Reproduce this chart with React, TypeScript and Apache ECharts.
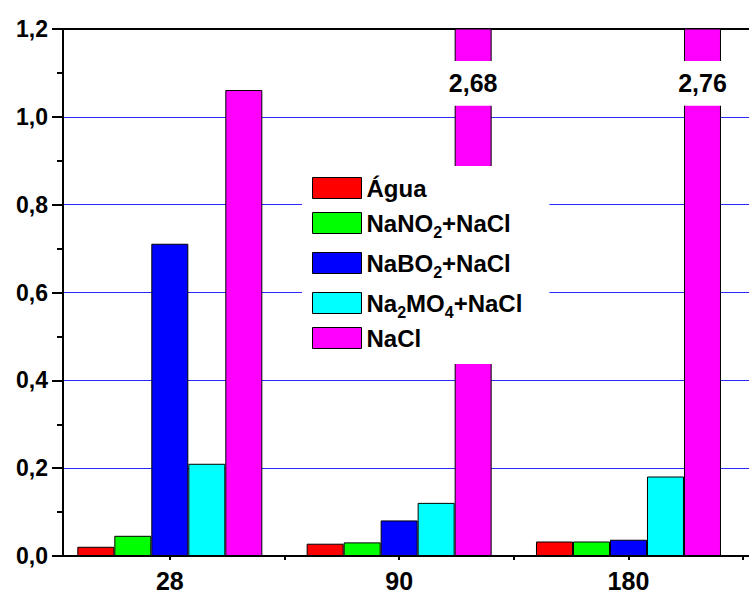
import React, { useEffect, useRef } from "react";
import * as echarts from "echarts";

// ---- data ----
const categories = ["28", "90", "180"];
const xPositions = [1, 2, 3];
const seriesNames = ["Água", "NaNO2+NaCl", "NaBO2+NaCl", "Na2MO4+NaCl", "NaCl"];
const agua = [0.021, 0.028, 0.033];
const nano2 = [0.046, 0.031, 0.033];
const nabo2 = [0.711, 0.081, 0.037];
const na2mo4 = [0.21, 0.121, 0.181];
const nacl = [1.061, 2.68, 2.76];
const yTicks = [0, 0.2, 0.4, 0.6, 0.8, 1.0, 1.2];
const xMinorTicks = [1, 1.5, 2, 2.5, 3, 3.5];

const seriesValues = [agua, nano2, nabo2, na2mo4, nacl];
const colors = ["#ff0000", "#00ff00", "#0000ff", "#00ffff", "#ff00ff"];

const FONT = '"Liberation Sans", Arial, sans-serif';
const BAR_W = 37;
const Y_MAX = yTicks[yTicks.length - 1];
const BREAK_LOW = 1.025;
const BREAK_HIGH = 1.127;

const fmtComma = (v: number, d: number) => v.toFixed(d).replace(".", ",");

export default function App() {
  const ref = useRef<HTMLDivElement>(null);

  useEffect(() => {
    if (!ref.current) return;
    const chart = echarts.init(ref.current, undefined, { renderer: "svg" });

    const barSeries = seriesNames.map((name, si) => ({
      name,
      type: "bar",
      xAxisIndex: 0,
      yAxisIndex: 0,
      barWidth: BAR_W,
      barGap: "0%",
      clip: true,
      data: xPositions.map((x, i) => [x, seriesValues[si][i]]),
      itemStyle: { color: colors[si], borderColor: "#000", borderWidth: 1 },
      z: 2,
    }));

    const breakData = xPositions
      .map((x, i) => [x, nacl[i]])
      .filter((d) => d[1] > Y_MAX);

    const breakSeries = {
      type: "custom",
      xAxisIndex: 0,
      yAxisIndex: 0,
      z: 3,
      silent: true,
      data: breakData,
      renderItem: (params: any, api: any) => {
        const x = api.value(0);
        const v = api.value(1);
        const top = api.coord([x, BREAK_HIGH]);
        const bot = api.coord([x, BREAK_LOW]);
        const cx = top[0] + 2 * BAR_W;
        return {
          type: "group",
          children: [
            {
              type: "rect",
              shape: { x: cx - BAR_W / 2 - 2, y: top[1], width: BAR_W + 4, height: bot[1] - top[1] },
              style: { fill: "#ffffff" },
            },
            {
              type: "text",
              style: {
                text: fmtComma(v, 2),
                x: cx,
                y: (top[1] + bot[1]) / 2,
                align: "center",
                verticalAlign: "middle",
                font: `bold 25px ${FONT}`,
                fill: "#000",
              },
            },
          ],
        };
      },
    };

    const xMin = 0.5342;
    const xMax = 3.543;

    chart.setOption({
      animation: false,
      backgroundColor: "#ffffff",
      grid: {
        left: 63,
        top: 29,
        right: -4,
        bottom: 38,
        containLabel: false,
        outerBoundsMode: "none",
      },
      legend: {
        orient: "vertical",
        left: 302,
        top: 166,
        padding: [10, 27, 14, 10],
        backgroundColor: "#ffffff",
        itemWidth: 49,
        itemHeight: 21,
        itemGap: 6,
        icon: "rect",
        selectedMode: false,
        data: seriesNames,
        itemStyle: { borderColor: "#000", borderWidth: 1 },
        formatter: (name: string) => {
          const inner = name.replace(/(\d)/g, "}{s|$1}{n|");
          const hasSub = /\d/.test(name);
          return hasSub || name === "NaCl" ? `{n|${inner}}` : `{m|${inner}}`;
        },
        textStyle: {
          fontFamily: FONT,
          fontWeight: "bold",
          fontSize: 24,
          color: "#000",
          rich: {
            n: { fontFamily: FONT, fontWeight: "bold", fontSize: 24, lineHeight: 32, color: "#000" },
            m: { fontFamily: FONT, fontWeight: "bold", fontSize: 24, lineHeight: 24, color: "#000" },
            s: {
              fontFamily: FONT,
              fontWeight: "bold",
              fontSize: 16,
              lineHeight: 16,
              padding: [18, 0, 0, 0],
              color: "#000",
            },
          },
        },
        z: 10,
      },
      xAxis: [
        {
          type: "value",
          position: "bottom",
          min: xMin,
          max: xMax,
          axisLine: { show: true, onZero: false, lineStyle: { color: "#000", width: 2 } },
          axisTick: {
            show: true,
            length: 4,
            customValues: xMinorTicks,
            lineStyle: { color: "#000", width: 2 },
          },
          axisLabel: {
            show: true,
            customValues: xPositions,
            formatter: (v: number) => categories[Math.round(v) - 1] ?? "",
            fontFamily: FONT,
            fontWeight: "bold",
            fontSize: 25,
            color: "#000",
            margin: 12,
          },
          splitLine: { show: false },
        },
        {
          type: "value",
          position: "top",
          min: xMin,
          max: xMax,
          axisLine: { show: true, onZero: false, lineStyle: { color: "#000", width: 2 } },
          axisTick: { show: false },
          axisLabel: { show: false },
          splitLine: { show: false },
        },
      ],
      yAxis: {
        type: "value",
        min: yTicks[0],
        max: Y_MAX,
        interval: 0.2,
        axisLine: { show: true, onZero: false, lineStyle: { color: "#000", width: 2 } },
        axisTick: { show: true, length: 11, lineStyle: { color: "#000", width: 2 } },
        minorTick: { show: true, splitNumber: 2, length: 6, lineStyle: { color: "#000", width: 2 } },
        axisLabel: {
          formatter: (v: number) => fmtComma(v, 1),
          fontFamily: FONT,
          fontWeight: "bold",
          fontSize: 23,
          color: "#000",
          margin: 15,
        },
        splitLine: { show: true, lineStyle: { color: "#2a2aff", width: 1 } },
      },
      series: [...barSeries, breakSeries],
    });

    return () => chart.dispose();
  }, []);

  return (
    <div
      ref={ref}
      style={{ position: "fixed", left: 0, top: 0, width: 749, height: 594, background: "#fff" }}
    />
  );
}
